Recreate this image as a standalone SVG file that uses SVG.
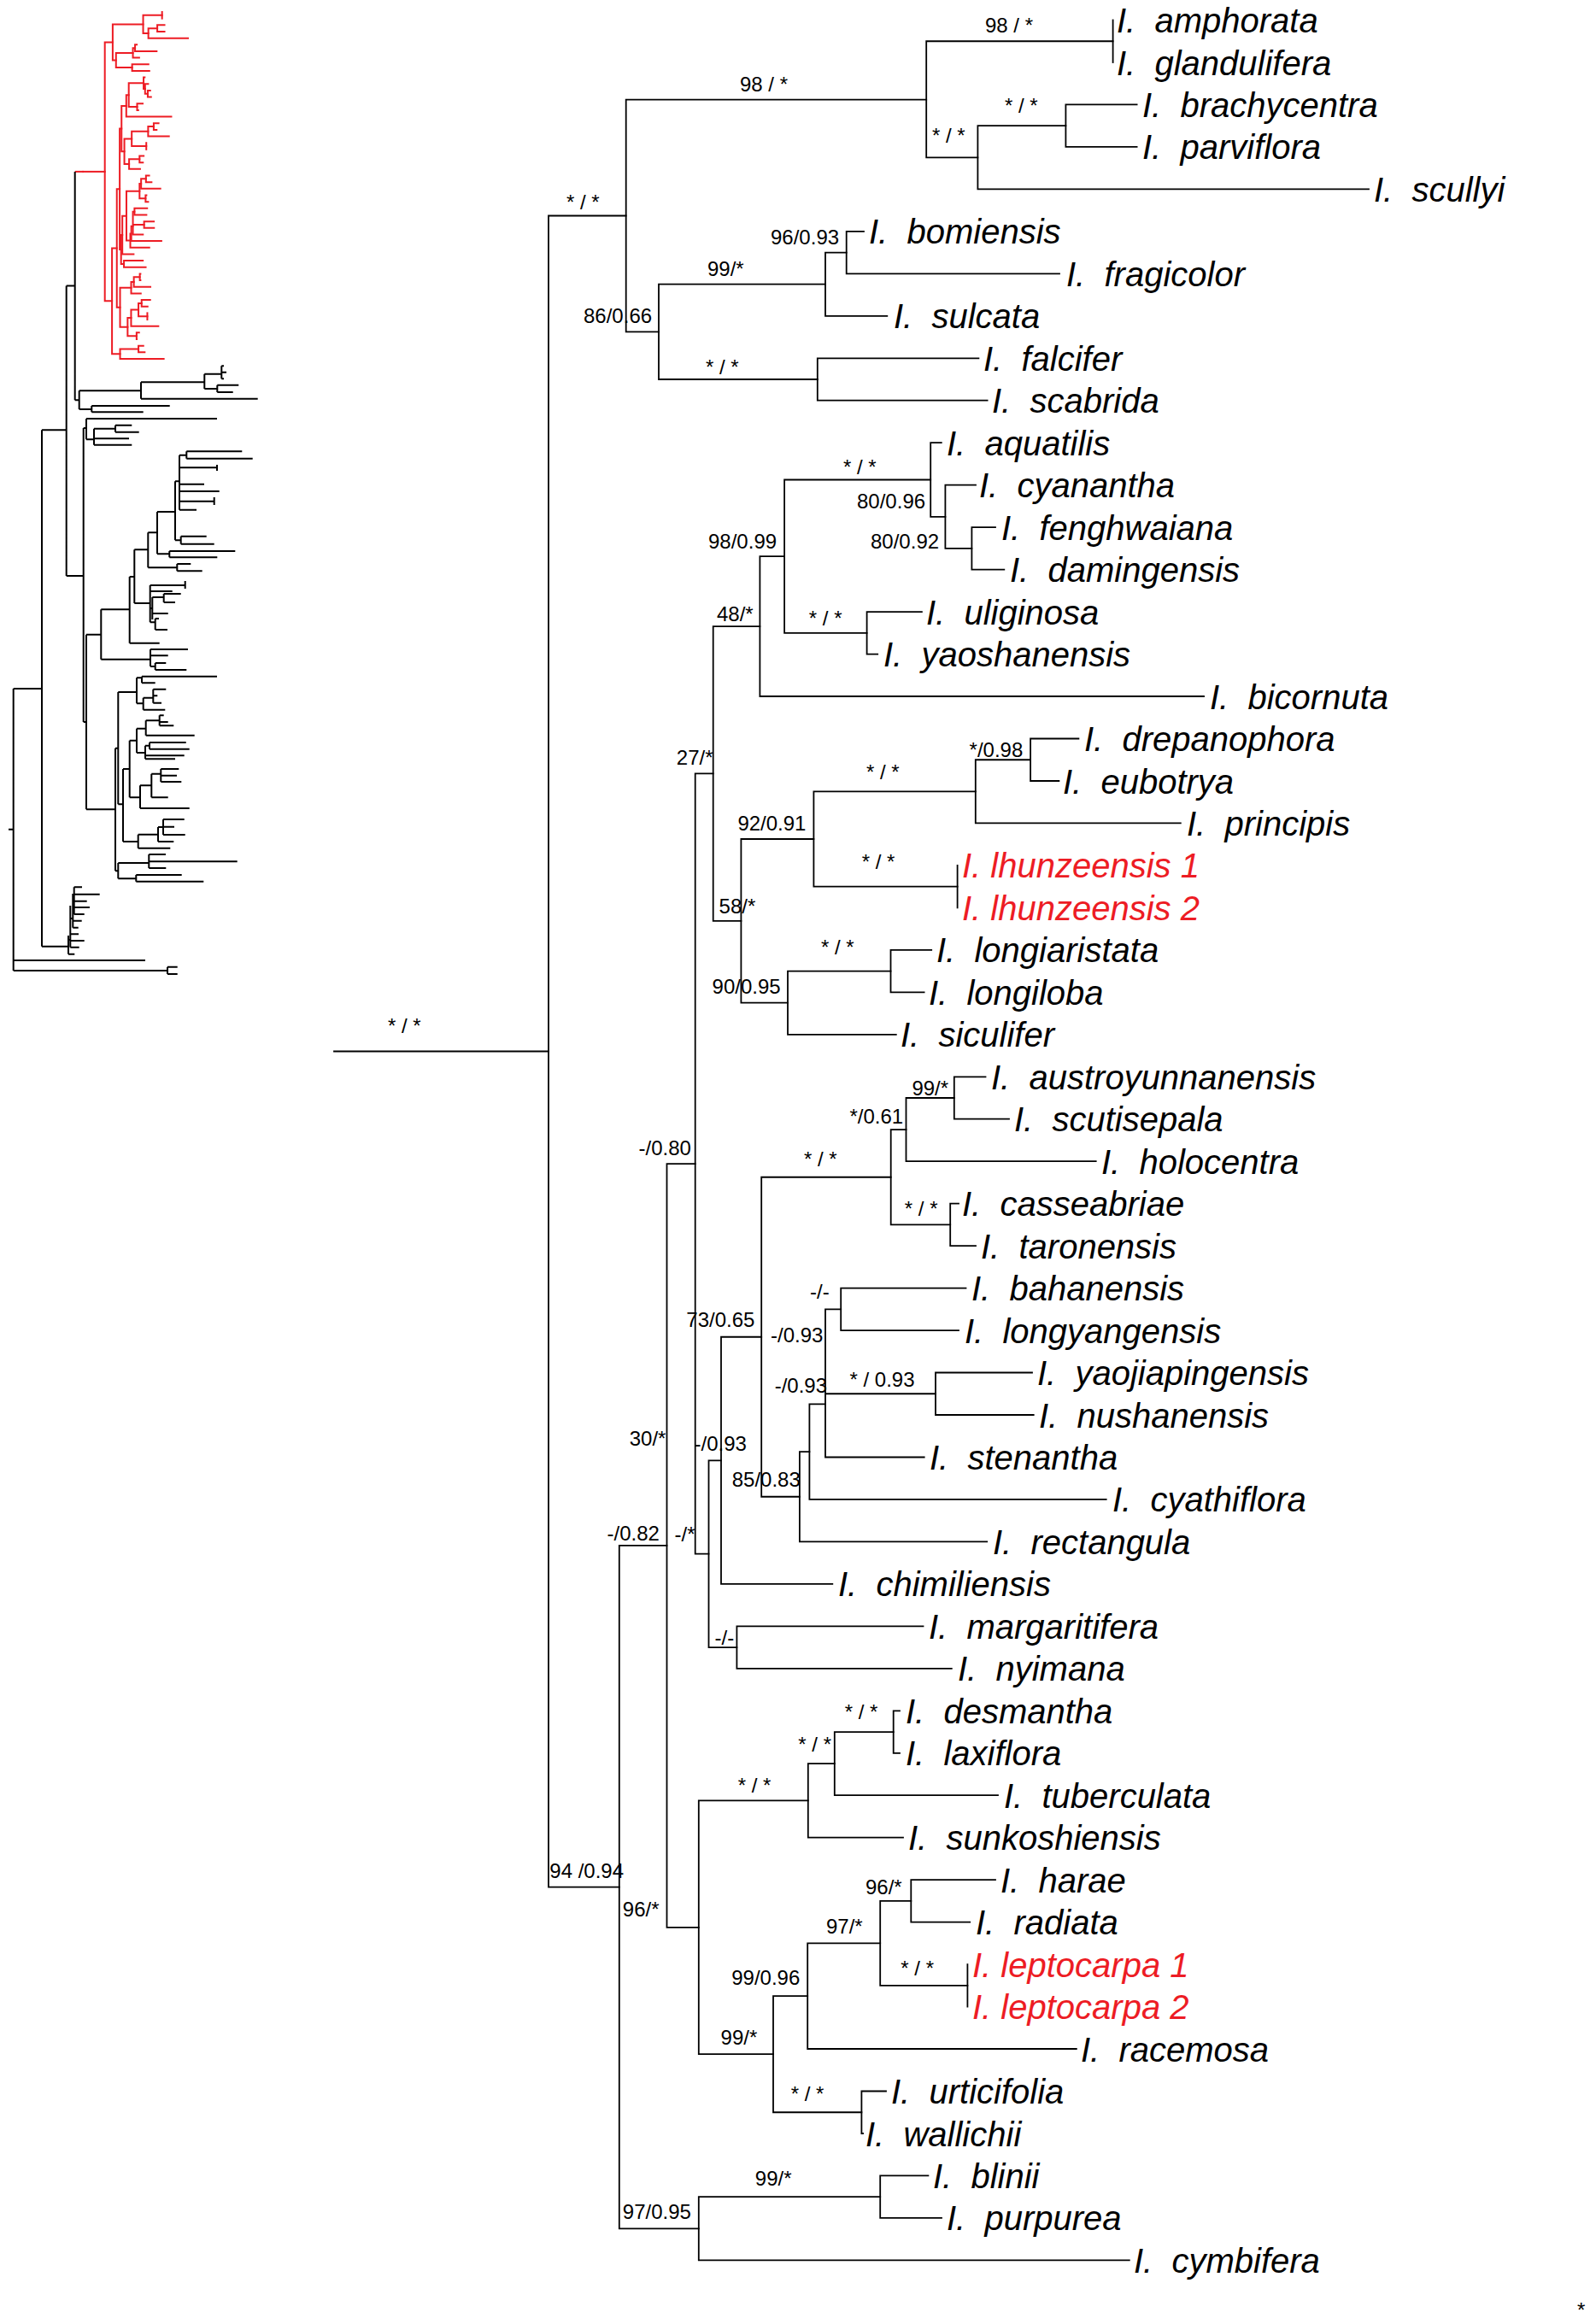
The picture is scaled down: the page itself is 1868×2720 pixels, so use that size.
<svg xmlns="http://www.w3.org/2000/svg" width="1868" height="2720" viewBox="0 0 1868 2720">
<style>
.br{fill:none;vector-effect:non-scaling-stroke;stroke-linecap:square}
.tip{font-family:"Liberation Sans",Arial,sans-serif;font-style:italic;font-size:40px;fill:#000}
.red{fill:#ed1c24}
.sup{font-family:"Liberation Sans",Arial,sans-serif;font-size:24px;fill:#000}
.thb{fill:none;stroke:#000;stroke-width:2}
</style>
<rect width="1868" height="2720" fill="#fff"/>
<g stroke="#000" stroke-width="1.8">
<g id="connectors">
<path class="br" d="M391 1230.5H642"/>
<path class="br" d="M642 252.5V2208.6M642 252.5H732.7M642 2208.6H724.8"/>
<path class="br" d="M732.7 116.6V388.35M732.7 116.6H1084.2M732.7 388.35H771"/>
<path class="br" d="M1084.2 48.25V184.3M1084.2 48.25H1302.6M1084.2 184.3H1144.4"/>
<path class="br" d="M1302.6 23.5V73"/>
<path class="br" d="M1144.4 147.15V221.4M1144.4 147.15H1247.4M1144.4 221.4H1602"/>
<path class="br" d="M1247.4 122.4V171.9M1247.4 122.4H1330.6M1247.4 171.9H1330.6"/>
<path class="br" d="M771 332.7V444M771 332.7H966M771 444H956.8"/>
<path class="br" d="M966 295.6V369.8M966 295.6H990.7M966 369.8H1038.3"/>
<path class="br" d="M990.7 270.9V320.3M990.7 270.9H1011M990.7 320.3H1240"/>
<path class="br" d="M956.8 419.3V468.7M956.8 419.3H1145.4M956.8 468.7H1155.6"/>
<path class="br" d="M724.8 1808.95V2608.3M724.8 1808.95H780.5M724.8 2608.3H817.8"/>
<path class="br" d="M780.5 1362.1V2255.8M780.5 1362.1H813.7M780.5 2255.8H817.8"/>
<path class="br" d="M813.7 905.45V1818.7M813.7 905.45H834.7M813.7 1818.7H829.5"/>
<path class="br" d="M834.7 733.1V1077.8M834.7 733.1H889.4M834.7 1077.8H867.4"/>
<path class="br" d="M889.4 651.2V815M889.4 651.2H918.1M889.4 815H1409"/>
<path class="br" d="M918.1 561.5V740.85M918.1 561.5H1089.2M918.1 740.85H1014.6"/>
<path class="br" d="M1089.2 518.2V604.8M1089.2 518.2H1101.8M1089.2 604.8H1106.4"/>
<path class="br" d="M1106.4 567.7V641.85M1106.4 567.7H1142M1106.4 641.85H1137.4"/>
<path class="br" d="M1137.4 617.1V666.6M1137.4 617.1H1165M1137.4 666.6H1175.3"/>
<path class="br" d="M1014.6 716.1V765.6M1014.6 716.1H1078.9M1014.6 765.6H1027.2"/>
<path class="br" d="M867.4 981.98V1173.7M867.4 981.98H952.4M867.4 1173.7H922"/>
<path class="br" d="M952.4 926.3V1037.65M952.4 926.3H1141.8M952.4 1037.65H1120.6"/>
<path class="br" d="M1141.8 889.25V963.4M1141.8 889.25H1206.1M1141.8 963.4H1381.8"/>
<path class="br" d="M1206.1 864.5V914M1206.1 864.5H1262.4M1206.1 914H1239.4"/>
<path class="br" d="M1120.6 1012.9V1062.4"/>
<path class="br" d="M922 1136.55V1210.8M922 1136.55H1042.5M922 1210.8H1048.8"/>
<path class="br" d="M1042.5 1111.8V1161.3M1042.5 1111.8H1090.2M1042.5 1161.3H1081.6"/>
<path class="br" d="M829.5 1709.3V1928.1M829.5 1709.3H844M829.5 1928.1H862.4"/>
<path class="br" d="M844 1564.75V1853.9M844 1564.75H891.2M844 1853.9H974.3"/>
<path class="br" d="M891.2 1377.75V1751.75M891.2 1377.75H1042.7M891.2 1751.75H935.9"/>
<path class="br" d="M1042.7 1322.1V1433.4M1042.7 1322.1H1060.5M1042.7 1433.4H1112.2"/>
<path class="br" d="M1060.5 1285V1359.2M1060.5 1285H1116.8M1060.5 1359.2H1282.7"/>
<path class="br" d="M1116.8 1260.3V1309.7M1116.8 1260.3H1153.5M1116.8 1309.7H1181"/>
<path class="br" d="M1112.2 1408.7V1458.1M1112.2 1408.7H1122M1112.2 1458.1H1142"/>
<path class="br" d="M935.9 1699.1V1804.4M935.9 1699.1H947.4M935.9 1804.4H1155.2"/>
<path class="br" d="M947.4 1643.3V1754.9M947.4 1643.3H966M947.4 1754.9H1294.7"/>
<path class="br" d="M966 1532.35V1705.5M966 1532.35H984.2M966 1631.25H1095M966 1705.5H1081.7"/>
<path class="br" d="M984.2 1507.6V1557.1M984.2 1507.6H1130.5M984.2 1557.1H1122"/>
<path class="br" d="M1095 1606.5V1656M1095 1606.5H1208M1095 1656H1209.7"/>
<path class="br" d="M862.4 1903.4V1952.8M862.4 1903.4H1080.5M862.4 1952.8H1113.8"/>
<path class="br" d="M817.8 2107.4V2404.2M817.8 2107.4H945.8M817.8 2404.2H905"/>
<path class="br" d="M945.8 2064.1V2150.7M945.8 2064.1H976.8M945.8 2150.7H1057"/>
<path class="br" d="M976.8 2027.05V2101.2M976.8 2027.05H1045.7M976.8 2101.2H1168"/>
<path class="br" d="M1045.7 2002.3V2051.8M1045.7 2002.3H1053M1045.7 2051.8H1053"/>
<path class="br" d="M905 2336.2V2472.25M905 2336.2H945.2M905 2472.25H1008.4"/>
<path class="br" d="M945.2 2274.4V2398M945.2 2274.4H1030.2M945.2 2398H1259.8"/>
<path class="br" d="M1030.2 2224.9V2323.85M1030.2 2224.9H1066.3M1030.2 2323.85H1132.4"/>
<path class="br" d="M1066.3 2200.2V2249.6M1066.3 2200.2H1165M1066.3 2249.6H1135.2"/>
<path class="br" d="M1132.4 2299.1V2348.6"/>
<path class="br" d="M1008.4 2447.5V2497M1008.4 2447.5H1037M1008.4 2497H1010"/>
<path class="br" d="M817.8 2571.15V2645.4M817.8 2571.15H1030.2M817.8 2645.4H1321.8"/>
<path class="br" d="M1030.2 2546.4V2595.9M1030.2 2546.4H1086.4M1030.2 2595.9H1102"/>
</g>
</g>
<g id="thumbnail">
<use href="#connectors" transform="matrix(0.1014 0 0 0.15485 57.6 10.36)" stroke="#ed1c24" stroke-width="2"/>
<path d="M87.7 200.9H98" stroke="#ed1c24" stroke-width="2" fill="none"/>
<path class="thb" d="M10 970.7H15.7M15.7 806V1136M15.7 806H49M15.7 1124H170M15.7 1136H196M196 1131.7V1140M196 1131.7H207.7M196 1140H207.7
M49 503.3V1107.7M49 503.3H77.7M49 1107.7H80M80 1095V1116.7M80 1116.7H87.3M80 1100H82.3M82.3 1060V1108.7M82.3 1108.7H92.7M82.3 1101H98.7M82.3 1093.3H92M82.3 1075H85.3M85.3 1046V1085.7M85.3 1085.7H91.7M85.3 1077.7H95.7M85.3 1054.7H86.7M86.7 1038.3V1070M86.7 1070H98.7M86.7 1062H105M86.7 1054.7H101.7M86.7 1046.7H116.7M86.7 1038.3H96
M77.7 334.6V674M77.7 334.6H87.7M87.7 200.9V468.3M77.7 674H97.7
M87.7 468.3H92.7M92.7 457.3V479M92.7 457.3H165M165 447.3V466.7M165 447.3H239.3M239.3 437.7V455M239.3 437.7H259.3M259.3 428.3V443.3M259.3 428.3H262M259.3 435.7H265M259.3 443.3H262M239.3 455H254.3M254.3 450.7V459M254.3 450.7H279.3M254.3 459H272.7M165 466.7H301.7M92.7 479H107.3M107.3 475V482.3M107.3 475H198.7M107.3 482.3H167.7
M97.7 501V845M97.7 501H101M101 490V514.3M101 490H254M101 514.3H110M110 501.7V520.7M110 501.7H135M135 497.7V505.7M135 497.7H154.3M135 505.7H162.7M110 513.3H151M110 520.7H154.3
M97.7 845H101M101 742.7V947.3M101 742.7H118.3M118.3 713.3V771.7M118.3 713.3H151.7M151.7 675V752.7M151.7 752.7H186.7M151.7 675H157.3M157.3 643.3V706
M118.3 771.7H176M176 760V780M176 760H220M176 767.3H196.7M176 780H181.7M181.7 776V784M181.7 776H194.3M181.7 784H218.3
M157.3 643.3H173.3M173.3 623.3V664.3M173.3 623.3H184M184 599V648.3M184 599H205M205 563.3V632.3M205 563.3H210M210 532.7V596.7M210 532.7H218.3M218.3 528.3V536.7M218.3 528.3H283.3M218.3 536.7H295.7M210 547.3H254M254 544V551M210 566.7H239M210 575H256.7M210 586.7H250.7M250.7 582V591M210 596.7H230
M205 632.3H211.7M211.7 627.7V636.7M211.7 627.7H241.7M211.7 636.7H250.7M184 648.3H198.3M198.3 645V652.3M198.3 645H275.3M198.3 652.3H254.3M173.3 664.3H207.3M207.3 660V668.3M207.3 660H223.3M207.3 668.3H236.7
M157.3 706H175.7M175.7 685V728.3M175.7 685H216.7M216.7 680V689M175.7 692H201.7M175.7 712H178.3M178.3 699V725M178.3 699H191.7M191.7 695V705M191.7 695H211.7M191.7 705H205M178.3 718H196.7M175.7 728.3H181.7M181.7 724V737M181.7 724H186M181.7 737H196
M101 947.3H135M135 875.7V1019.3M135 875.7H138.3M138.3 810V941.3M138.3 810H160M160 793.3V823.3M160 793.3H166M166 791.7V799.3M166 791.7H254M166 799.3H181.7M160 823.3H167.7M167.7 816.7V830.7M167.7 816.7H179.3M179.3 806.7V822.7M179.3 806.7H194.3M179.3 814.3H184.3M179.3 822.7H189M167.7 830.7H193.3
M138.3 941.3H144M144 900V985M144 900H151.7M151.7 866.7V933.3M151.7 866.7H160M160 852.7V881M160 852.7H170.7M170.7 843.3V860.7M170.7 843.3H186.7M186.7 837.3V849.3M186.7 837.3H191.7M186.7 845H196.7M186.7 849.3H203.3M170.7 860.7H227.7M160 881H170M170 872.7V888.3M170 872.7H175M175 869V876.7M175 869H217.7M175 876.7H221.7M170 884.3H215.7M170 888.3H205
M151.7 933.3H164M164 919.3V946M164 919.3H177.3M177.3 905.7V933.3M177.3 905.7H188.3M188.3 900V915M188.3 900H209.3M188.3 907.7H207M188.3 915H212.3M177.3 933.3H196.7M164 946H221.7
M144 985H161.7M161.7 976.7V992.7M161.7 976.7H185M185 968V985M185 968H191M191 959V977M191 959H215.7M191 967.7H204M191 977H216.7M185 985H203.3M161.7 992.7H199.3
M135 1019.3H138.3M138.3 1010V1028.3M138.3 1010H174.3M174.3 1000V1016M174.3 1000H194M174.3 1008.3H277.7M174.3 1016H194.3M138.3 1028.3H159.3M159.3 1024V1031.7M159.3 1024H212.7M159.3 1031.7H238.3"/>
</g>
<g id="tips">
<g id="tip-amphorata"><text class="tip" x="1307" y="38">I.&#160; amphorata</text></g>
<g id="tip-glandulifera"><text class="tip" x="1307" y="87.5">I.&#160; glandulifera</text></g>
<g id="tip-brachycentra"><text class="tip" x="1337" y="137">I.&#160; brachycentra</text></g>
<g id="tip-parviflora"><text class="tip" x="1337" y="186.4">I.&#160; parviflora</text></g>
<g id="tip-scullyi"><text class="tip" x="1608" y="236">I.&#160; scullyi</text></g>
<g id="tip-bomiensis"><text class="tip" x="1017" y="285.4">I.&#160; bomiensis</text></g>
<g id="tip-fragicolor"><text class="tip" x="1248" y="334.8">I.&#160; fragicolor</text></g>
<g id="tip-sulcata"><text class="tip" x="1046" y="384.3">I.&#160; sulcata</text></g>
<g id="tip-falcifer"><text class="tip" x="1151" y="433.8">I.&#160; falcifer</text></g>
<g id="tip-scabrida"><text class="tip" x="1161" y="483.2">I.&#160; scabrida</text></g>
<g id="tip-aquatilis"><text class="tip" x="1108" y="532.7">I.&#160; aquatilis</text></g>
<g id="tip-cyanantha"><text class="tip" x="1146" y="582.2">I.&#160; cyanantha</text></g>
<g id="tip-fenghwaiana"><text class="tip" x="1172" y="631.6">I.&#160; fenghwaiana</text></g>
<g id="tip-damingensis"><text class="tip" x="1182" y="681.1">I.&#160; damingensis</text></g>
<g id="tip-uliginosa"><text class="tip" x="1084" y="730.6">I.&#160; uliginosa</text></g>
<g id="tip-yaoshanensis"><text class="tip" x="1034" y="780.1">I.&#160; yaoshanensis</text></g>
<g id="tip-bicornuta"><text class="tip" x="1416" y="829.5">I.&#160; bicornuta</text></g>
<g id="tip-drepanophora"><text class="tip" x="1269" y="879">I.&#160; drepanophora</text></g>
<g id="tip-eubotrya"><text class="tip" x="1244" y="928.5">I.&#160; eubotrya</text></g>
<g id="tip-principis"><text class="tip" x="1389" y="977.9">I.&#160; principis</text></g>
<g id="tip-lhunzeensis1"><text class="tip red" x="1126" y="1027.4">I. lhunzeensis 1</text></g>
<g id="tip-lhunzeensis2"><text class="tip red" x="1126" y="1076.9">I. lhunzeensis 2</text></g>
<g id="tip-longiaristata"><text class="tip" x="1096" y="1126.3">I.&#160; longiaristata</text></g>
<g id="tip-longiloba"><text class="tip" x="1087" y="1175.8">I.&#160; longiloba</text></g>
<g id="tip-siculifer"><text class="tip" x="1054" y="1225.3">I.&#160; siculifer</text></g>
<g id="tip-austroyunnanensis"><text class="tip" x="1160" y="1274.8">I.&#160; austroyunnanensis</text></g>
<g id="tip-scutisepala"><text class="tip" x="1187" y="1324.2">I.&#160; scutisepala</text></g>
<g id="tip-holocentra"><text class="tip" x="1289" y="1373.7">I.&#160; holocentra</text></g>
<g id="tip-casseabriae"><text class="tip" x="1126" y="1423.2">I.&#160; casseabriae</text></g>
<g id="tip-taronensis"><text class="tip" x="1148" y="1472.6">I.&#160; taronensis</text></g>
<g id="tip-bahanensis"><text class="tip" x="1137" y="1522.1">I.&#160; bahanensis</text></g>
<g id="tip-longyangensis"><text class="tip" x="1129" y="1571.6">I.&#160; longyangensis</text></g>
<g id="tip-yaojiapingensis"><text class="tip" x="1214" y="1621">I.&#160; yaojiapingensis</text></g>
<g id="tip-nushanensis"><text class="tip" x="1216" y="1670.5">I.&#160; nushanensis</text></g>
<g id="tip-stenantha"><text class="tip" x="1088" y="1720">I.&#160; stenantha</text></g>
<g id="tip-cyathiflora"><text class="tip" x="1302" y="1769.4">I.&#160; cyathiflora</text></g>
<g id="tip-rectangula"><text class="tip" x="1162" y="1818.9">I.&#160; rectangula</text></g>
<g id="tip-chimiliensis"><text class="tip" x="981" y="1868.4">I.&#160; chimiliensis</text></g>
<g id="tip-margaritifera"><text class="tip" x="1087" y="1917.9">I.&#160; margaritifera</text></g>
<g id="tip-nyimana"><text class="tip" x="1121" y="1967.3">I.&#160; nyimana</text></g>
<g id="tip-desmantha"><text class="tip" x="1060" y="2016.8">I.&#160; desmantha</text></g>
<g id="tip-laxiflora"><text class="tip" x="1060" y="2066.3">I.&#160; laxiflora</text></g>
<g id="tip-tuberculata"><text class="tip" x="1175" y="2115.7">I.&#160; tuberculata</text></g>
<g id="tip-sunkoshiensis"><text class="tip" x="1063" y="2165.2">I.&#160; sunkoshiensis</text></g>
<g id="tip-harae"><text class="tip" x="1171" y="2214.7">I.&#160; harae</text></g>
<g id="tip-radiata"><text class="tip" x="1142" y="2264.1">I.&#160; radiata</text></g>
<g id="tip-leptocarpa1"><text class="tip red" x="1138" y="2313.6">I. leptocarpa 1</text></g>
<g id="tip-leptocarpa2"><text class="tip red" x="1138" y="2363.1">I. leptocarpa 2</text></g>
<g id="tip-racemosa"><text class="tip" x="1265" y="2412.5">I.&#160; racemosa</text></g>
<g id="tip-urticifolia"><text class="tip" x="1043" y="2462">I.&#160; urticifolia</text></g>
<g id="tip-wallichii"><text class="tip" x="1013" y="2511.5">I.&#160; wallichii</text></g>
<g id="tip-blinii"><text class="tip" x="1092" y="2560.9">I.&#160; blinii</text></g>
<g id="tip-purpurea"><text class="tip" x="1108" y="2610.4">I.&#160; purpurea</text></g>
<g id="tip-cymbifera"><text class="tip" x="1327" y="2659.9">I.&#160; cymbifera</text></g>
</g>
<g id="supports">
<g id="n-root"><text class="sup" x="454" y="1209">* / *</text></g>
<g id="n-A"><text class="sup" x="663" y="245">* / *</text></g>
<g id="n-B1"><text class="sup" x="866" y="106.7">98 / *</text></g>
<g id="n-AG"><text class="sup" x="1153" y="38.3">98 / *</text></g>
<g id="n-C1"><text class="sup" x="1091" y="166.7">* / *</text></g>
<g id="n-BP"><text class="sup" x="1176" y="131.7">* / *</text></g>
<g id="n-B2"><text class="sup" x="683" y="378">86/0.66</text></g>
<g id="n-99"><text class="sup" x="828" y="322.7">99/*</text></g>
<g id="n-96"><text class="sup" x="902" y="286">96/0.93</text></g>
<g id="n-FS"><text class="sup" x="826" y="437.7">* / *</text></g>
<g id="n-aq"><text class="sup" x="987" y="555">* / *</text></g>
<g id="n-8096"><text class="sup" x="1003" y="595">80/0.96</text></g>
<g id="n-8092"><text class="sup" x="1019" y="641.7">80/0.92</text></g>
<g id="n-9899"><text class="sup" x="829" y="641.7">98/0.99</text></g>
<g id="n-ul"><text class="sup" x="946.8" y="731.7">* / *</text></g>
<g id="n-48"><text class="sup" x="839" y="726.7">48/*</text></g>
<g id="n-27"><text class="sup" x="791.8" y="895">27/*</text></g>
<g id="n-098"><text class="sup" x="1134.6" y="885.5">*/0.98</text></g>
<g id="n-dr"><text class="sup" x="1014" y="911.7">* / *</text></g>
<g id="n-92"><text class="sup" x="863.4" y="971.7">92/0.91</text></g>
<g id="n-lh"><text class="sup" x="1008.7" y="1016.7">* / *</text></g>
<g id="n-58"><text class="sup" x="841.6" y="1069.3">58/*</text></g>
<g id="n-la"><text class="sup" x="961" y="1117.3">* / *</text></g>
<g id="n-90"><text class="sup" x="833.6" y="1163.3">90/0.95</text></g>
<g id="n-99a"><text class="sup" x="1067.4" y="1281.7">99/*</text></g>
<g id="n-061"><text class="sup" x="994.5" y="1315">*/0.61</text></g>
<g id="n-080"><text class="sup" x="747.6" y="1351.7">-/0.80</text></g>
<g id="n-au"><text class="sup" x="941" y="1365">* / *</text></g>
<g id="n-ca"><text class="sup" x="1058.8" y="1422.7">* / *</text></g>
<g id="n-bh"><text class="sup" x="948" y="1520">-/-</text></g>
<g id="n-73"><text class="sup" x="803.3" y="1553.3">73/0.65</text></g>
<g id="n-093a"><text class="sup" x="902" y="1570.7">-/0.93</text></g>
<g id="n-yj"><text class="sup" x="994.5" y="1623.3">* / 0.93</text></g>
<g id="n-093b"><text class="sup" x="906.7" y="1630">-/0.93</text></g>
<g id="n-30"><text class="sup" x="736.7" y="1692">30/*</text></g>
<g id="n-093c"><text class="sup" x="812.5" y="1698.3">-/0.93</text></g>
<g id="n-85"><text class="sup" x="856.7" y="1740">85/0.83</text></g>
<g id="n-082"><text class="sup" x="710.5" y="1803">-/0.82</text></g>
<g id="n-st"><text class="sup" x="789.5" y="1804">-/*</text></g>
<g id="n-mg"><text class="sup" x="836.6" y="1925">-/-</text></g>
<g id="n-dl"><text class="sup" x="988.7" y="2012">* / *</text></g>
<g id="n-dt"><text class="sup" x="934.3" y="2050">* / *</text></g>
<g id="n-de"><text class="sup" x="863.7" y="2098.3">* / *</text></g>
<g id="n-094"><text class="sup" x="643.3" y="2198">94 /0.94</text></g>
<g id="n-ha"><text class="sup" x="1013" y="2216.7">96/*</text></g>
<g id="n-Q"><text class="sup" x="728.8" y="2243.3">96/*</text></g>
<g id="n-97s"><text class="sup" x="967" y="2263.3">97/*</text></g>
<g id="n-le"><text class="sup" x="1054.3" y="2311.7">* / *</text></g>
<g id="n-996"><text class="sup" x="856.2" y="2323.3">99/0.96</text></g>
<g id="n-99b"><text class="sup" x="843.6" y="2393.3">99/*</text></g>
<g id="n-ur"><text class="sup" x="925.7" y="2459.3">* / *</text></g>
<g id="n-bl"><text class="sup" x="883.8" y="2558.3">99/*</text></g>
<g id="n-97"><text class="sup" x="728.8" y="2596.7">97/0.95</text></g>
<g id="n-corner"><text class="sup" x="1846" y="2712" font-size="16">*</text></g>
</g>
</svg>
